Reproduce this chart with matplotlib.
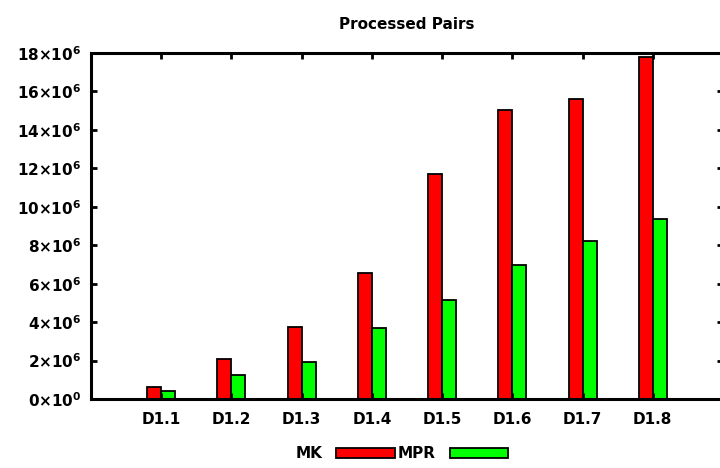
import numpy as np
import matplotlib.pyplot as plt

# values
datasets = ['D1.1', 'D1.2', 'D1.3', 'D1.4', 'D1.5', 'D1.6', 'D1.7', 'D1.8']
mk_pairs = [0.61e6, 2.07e6, 3.75e6, 6.56e6, 11.7e6, 15.05e6, 15.6e6, 17.78e6]
mpr_pairs = [0.40e6, 1.23e6, 1.93e6, 3.70e6, 5.15e6, 6.98e6, 8.24e6, 9.37e6]
y_ticks = [0, 2e6, 4e6, 6e6, 8e6, 10e6, 12e6, 14e6, 16e6, 18e6]

plt.rcParams['font.family'] = 'DejaVu Sans'
plt.rcParams['font.weight'] = 'bold'
plt.rcParams['mathtext.fontset'] = 'dejavusans'
plt.rcParams['mathtext.default'] = 'bf'

fig = plt.figure(figsize=(7.2, 4.68), dpi=100)
ax = fig.add_axes([91 / 720, 1 - 399 / 468, 632 / 720, 346 / 468])

x = np.arange(1, len(datasets) + 1)
w = 0.2
ax.bar(x - w / 2, mk_pairs, w, color='#ff0000', edgecolor='black', linewidth=1.3, label='MK')
ax.bar(x + w / 2, mpr_pairs, w, color='#00ff00', edgecolor='black', linewidth=1.3, label='MPR')

ax.set_xlim(0, 9)
ax.set_ylim(0, 18e6)
ax.set_xticks(x)
ax.set_xticklabels(datasets, fontsize=11, fontweight='bold')
ylabels = []
for v in y_ticks:
    if v == 0:
        ylabels.append(r'$0{\times}10^{0}$')
    else:
        ylabels.append(r'$%d{\times}10^{6}$' % int(v / 1e6))
ax.set_yticks(y_ticks)
ax.set_yticklabels(ylabels, fontsize=11)
ax.tick_params(direction='in', length=4, width=2, top=True, right=True)
ax.tick_params(axis='y', pad=7)
ax.tick_params(axis='x', pad=9)
for s in ax.spines.values():
    s.set_linewidth(2.2)

ax.set_title('Processed Pairs', fontsize=11, fontweight='bold', pad=17.5)

ax.legend(loc='center', bbox_to_anchor=(0.492, -0.158), ncol=2, frameon=False,
          markerfirst=False, handlelength=3.85, handleheight=0.6, columnspacing=0.2,
          handletextpad=0.9, prop={'size': 11, 'weight': 'bold'})

fig.savefig('out.png', dpi=100)
